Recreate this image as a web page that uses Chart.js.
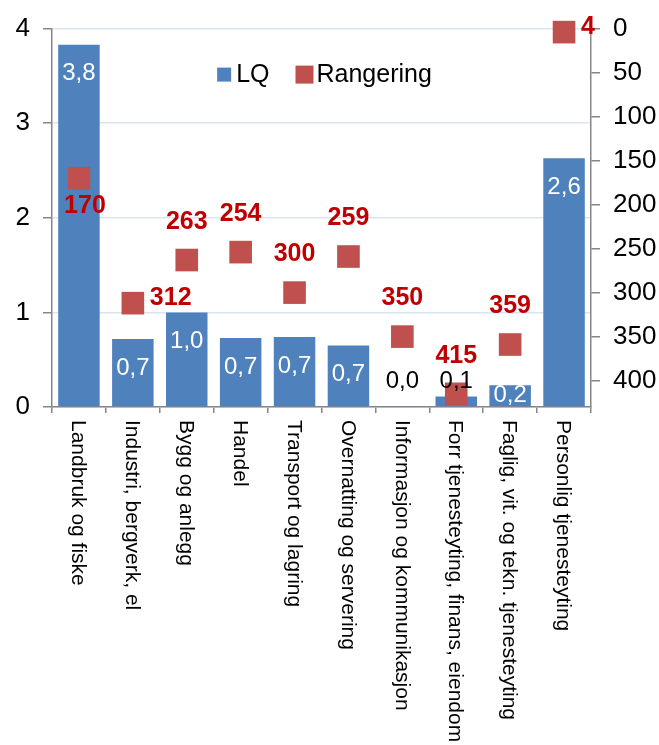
<!DOCTYPE html>
<html><head><meta charset="utf-8">
<script src="https://cdn.jsdelivr.net/npm/chart.js@4.4.0/dist/chart.umd.min.js"></script>
<style>html,body{margin:0;padding:0;background:#fff}#wrap{width:659px;height:745px}</style>
</head><body><div id="wrap"><canvas id="c" width="659" height="745"></canvas></div>
<script>
const categories = ['Landbruk og fiske','Industri, bergverk, el','Bygg og anlegg','Handel','Transport og lagring','Overnatting og servering','Informasjon og kommunikasjon','Forr tjenesteyting, finans, eiendom','Faglig, vit. og tekn. tjenesteyting','Personlig tjenesteyting'];
const lqValues = [3.83, 0.72, 1.0, 0.73, 0.74, 0.65, 0.01, 0.11, 0.23, 2.63];
const rankValues = [170, 312, 263, 254, 300, 259, 350, 415, 359, 4];
const rankLabelSide = ['below','right','above','above','above','above','above','above','above','right'];
const lqTickStep = 1, lqMax = 4;
const rankTickStep = 50, rankMax = 430;

const FONT = '"Liberation Sans", Arial, Helvetica, sans-serif';
const AXIS = '#868686';

const labelPlugin = {
  id: 'customLabels',
  afterDatasetsDraw(chart) {
    const ctx = chart.ctx, area = chart.chartArea;
    ctx.save();
    ctx.textAlign = 'center'; ctx.textBaseline = 'middle';
    ctx.font = '24px ' + FONT;
    chart.getDatasetMeta(1).data.forEach((el, i) => {
      const v = lqValues[i];
      const txt = v.toFixed(1).replace('.', ',');
      let y, col;
      if (v < 0.15) { y = area.bottom - 26; col = '#000'; }
      else { y = Math.min(el.y + 29, area.bottom - 12); col = '#fff'; }
      ctx.fillStyle = col;
      ctx.fillText(txt, el.x, y);
    });
    ctx.font = 'bold 25px ' + FONT;
    ctx.fillStyle = '#c00000';
    chart.getDatasetMeta(0).data.forEach((el, i) => {
      const side = rankLabelSide[i];
      const txt = String(rankValues[i]);
      if (side === 'above') { ctx.textAlign = 'center'; ctx.fillText(txt, el.x, el.y - 38); }
      else if (side === 'below') { ctx.textAlign = 'center'; ctx.fillText(txt, el.x + 6, el.y + 28); }
      else { ctx.textAlign = 'left'; ctx.fillText(txt, el.x + 17, el.y - 5); }
    });
    ctx.restore();
  },
  afterDraw(chart) {
    const ctx = chart.ctx, area = chart.chartArea, xs = chart.scales.x;
    ctx.save();
    ctx.font = '21px ' + FONT;
    ctx.fillStyle = '#000';
    ctx.textAlign = 'left'; ctx.textBaseline = 'middle';
    categories.forEach((c, i) => {
      const x = xs.getPixelForValue(i);
      ctx.save();
      ctx.translate(x - 1, xs.top + 13);
      ctx.rotate(Math.PI / 2);
      ctx.fillText(c, 0, 0);
      ctx.restore();
    });
    // legend
    ctx.font = '25px ' + FONT;
    const dsBar = chart.data.datasets[1], dsRank = chart.data.datasets[0];
    const w1 = ctx.measureText(dsBar.label).width, w2 = ctx.measureText(dsRank.label).width;
    const total = 14 + 5 + w1 + 26 + 18 + 3 + w2;
    let lx = (area.left + area.right) / 2 - total / 2 + 3;
    const cy = area.top + 46;
    ctx.fillStyle = dsBar.backgroundColor;
    ctx.fillRect(lx, cy - 7, 14, 14);
    lx += 19;
    ctx.fillStyle = '#000'; ctx.textBaseline = 'middle';
    ctx.fillText(dsBar.label, lx, cy + 1);
    lx += w1 + 26;
    ctx.fillStyle = dsRank.backgroundColor;
    ctx.fillRect(lx, cy - 9, 18, 18);
    lx += 21;
    ctx.fillStyle = '#000';
    ctx.fillText(dsRank.label, lx, cy + 1);
    ctx.restore();
  }
};

new Chart(document.getElementById('c'), {
  type: 'bar',
  data: {
    labels: categories,
    datasets: [
      { type: 'line', label: 'Rangering', data: rankValues, yAxisID: 'y2', showLine: false, clip: false,
        pointStyle: 'rect', pointRadius: 16, pointHoverRadius: 16, pointBorderWidth: 0,
        backgroundColor: '#c0504d', borderColor: '#c0504d', order: 0 },
      { type: 'bar', label: 'LQ', data: lqValues, yAxisID: 'y', backgroundColor: '#4f81bd',
        barPercentage: 0.77, categoryPercentage: 1, order: 1 }
    ]
  },
  options: {
    responsive: false, animation: false, events: [],
    layout: { padding: { top: 25, left: 0, right: 0, bottom: 0 } },
    plugins: { legend: { display: false }, tooltip: { enabled: false } },
    scales: {
      x: {
        offset: true,
        grid: { offset: true, drawOnChartArea: false, drawTicks: true, tickLength: 6, tickColor: AXIS, lineWidth: 1.5 },
        border: { color: AXIS, width: 1.5 },
        ticks: { display: false },
        afterFit(s) { s.height = 338; }
      },
      y: {
        position: 'left', min: 0, max: lqMax,
        ticks: { stepSize: lqTickStep, padding: 13, color: '#000', font: { size: 26, family: FONT } },
        grid: { color: '#dbe5f1', tickColor: AXIS, tickLength: 9, lineWidth: 1.5 },
        border: { color: AXIS, width: 1.5 },
        afterFit(s) { s.width = 52; }
      },
      y2: {
        position: 'right', reverse: true, min: 0, max: rankMax,
        ticks: { stepSize: rankTickStep, includeBounds: false, padding: 13, color: '#000', font: { size: 26, family: FONT } },
        grid: { drawOnChartArea: false, tickColor: AXIS, tickLength: 9, lineWidth: 1.5 },
        border: { color: AXIS, width: 1.5 },
        afterFit(s) { s.width = 68; }
      }
    }
  },
  plugins: [labelPlugin]
});
</script>
</body></html>
